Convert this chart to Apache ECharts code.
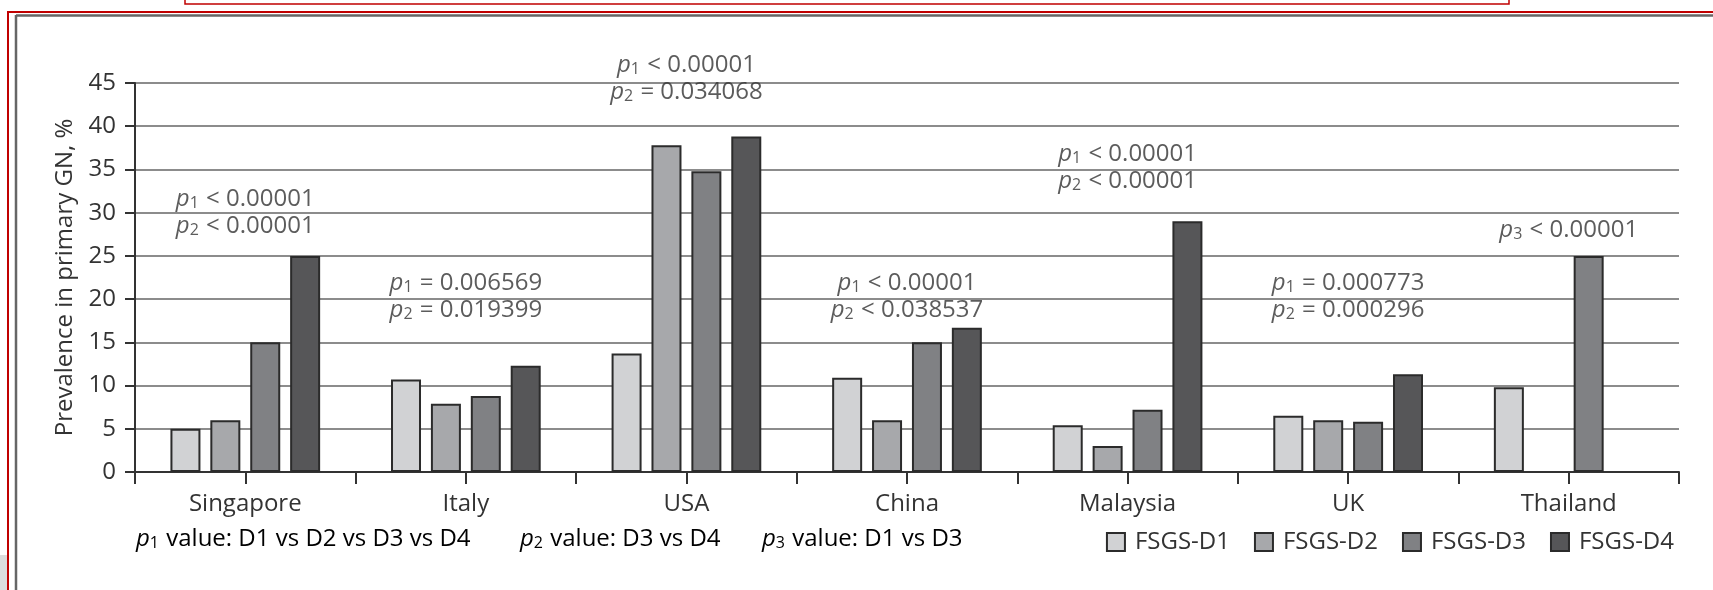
<!DOCTYPE html>
<html>
<head>
<meta charset="utf-8">
<script src="https://cdn.jsdelivr.net/npm/echarts@6/dist/echarts.min.js"></script>
<style>
  html, body { margin: 0; padding: 0; background: #fff; }
  #chart { width: 1713px; height: 590px; }
</style>
</head>
<body>
<div id="chart"></div>
<script>
// Prevalence of FSGS variants in primary GN by country (%)
const categories = ['Singapore', 'Italy', 'USA', 'China', 'Malaysia', 'UK', 'Thailand'];
const seriesNames = ['FSGS-D1', 'FSGS-D2', 'FSGS-D3', 'FSGS-D4'];
const fsgsD1 = [5.0, 10.7, 13.7, 10.9, 5.4, 6.5, 9.8];
const fsgsD2 = [6.0, 7.9, 37.8, 6.0, 3.0, 6.0, null];
const fsgsD3 = [15.0, 8.8, 34.8, 15.0, 7.2, 5.8, 25.0];
const fsgsD4 = [25.0, 12.3, 38.8, 16.7, 29.0, 11.3, null];
const yTicks = [0, 5, 10, 15, 20, 25, 30, 35, 40, 45];

// p-value notes per country: [index, relation, value]
const pNotes = [
  [[1, '<', '0.00001'], [2, '<', '0.00001']],
  [[1, '=', '0.006569'], [2, '=', '0.019399']],
  [[1, '<', '0.00001'], [2, '=', '0.034068']],
  [[1, '<', '0.00001'], [2, '<', '0.038537']],
  [[1, '<', '0.00001'], [2, '<', '0.00001']],
  [[1, '=', '0.000773'], [2, '=', '0.000296']],
  [[3, '<', '0.00001']]
];
const pKey = [
  [1, 'value: D1 vs D2 vs D3 vs D4'],
  [2, 'value: D3 vs D4'],
  [3, 'value: D1 vs D3']
];

// vertical placement of each note block (in axis units)
const noteLevel = [30.0, 20.3, 45.5, 20.3, 35.2, 20.3, 28.0];

const FONT = '"Open Sans", "Noto Sans", sans-serif';
const FS = 24;
const TXT = '#333333';
const fills = ['#d1d2d4', '#a7a8ab', '#808184', '#565658'];

const rich = {
  i: { fontFamily: FONT, fontSize: FS, fontStyle: 'italic', color: TXT, lineHeight: 27 },
  s: { fontFamily: FONT, fontSize: 16, color: TXT, lineHeight: 18, padding: [9, 1, 0, 0] },
  t: { fontFamily: FONT, fontSize: FS, color: TXT, lineHeight: 27 }
};

function noteText(lines) {
  return lines.map(l => '{i|p}{s|' + l[0] + '}{t| ' + l[1] + ' ' + l[2] + '}').join('\n');
}

const chart = echarts.init(document.getElementById('chart'), null, { renderer: 'canvas' });

const barSeries = [fsgsD1, fsgsD2, fsgsD3, fsgsD4].map((d, k) => ({
  name: seriesNames[k],
  type: 'bar',
  data: d,
  barWidth: 30,
  barGap: '33%',
  itemStyle: { color: fills[k], borderColor: '#2b2b2b', borderWidth: 2 },
  emphasis: { disabled: true },
  z: 3
}));

const keyX = [136, 520, 762];

chart.setOption({
  animation: false,
  backgroundColor: '#fff',
  textStyle: { fontFamily: FONT },
  grid: { left: 135, right: 34, top: 83, bottom: 118, containLabel: false },
  legend: {
    data: seriesNames,
    right: 34,
    top: 525,
    icon: 'rect',
    itemWidth: 18,
    itemHeight: 18,
    itemGap: 24,
    itemStyle: { borderColor: '#2b2b2b', borderWidth: 2 },
    textStyle: { fontFamily: FONT, fontSize: FS, color: TXT, padding: [0, 0, 0, 5] },
    selectedMode: false
  },
  xAxis: [
    {
      type: 'category',
      data: categories,
      position: 'bottom',
      axisLine: { show: true, lineStyle: { color: '#333', width: 2 } },
      axisTick: { show: true, alignWithLabel: false, length: 12, lineStyle: { color: '#333', width: 2 } },
      axisLabel: { fontFamily: FONT, fontSize: FS, color: TXT, margin: 20 },
      splitLine: { show: false }
    },
    {
      type: 'category',
      data: categories,
      position: 'bottom',
      axisLine: { show: false },
      axisTick: { show: true, alignWithLabel: true, length: 12, lineStyle: { color: '#333', width: 2 } },
      axisLabel: { show: false },
      splitLine: { show: false }
    }
  ],
  yAxis: {
    type: 'value',
    min: yTicks[0],
    max: yTicks[yTicks.length - 1],
    interval: yTicks[1] - yTicks[0],
    name: 'Prevalence in primary GN, %',
    nameLocation: 'middle',
    nameGap: 52,
    nameTextStyle: { fontFamily: FONT, fontSize: FS, color: TXT },
    axisLine: { show: true, lineStyle: { color: '#333', width: 2 } },
    axisTick: { show: true, length: 10, lineStyle: { color: '#333', width: 2 } },
    axisLabel: { fontFamily: FONT, fontSize: FS, color: TXT, margin: 19 },
    splitLine: { show: true, lineStyle: { color: '#8c8c8c', width: 2 } }
  },
  series: barSeries.concat([{
    type: 'scatter',
    xAxisIndex: 0,
    data: noteLevel.map((v, i) => [i, v]),
    symbolSize: 0,
    clip: false,
    silent: true,
    z: 5,
    label: {
      show: true,
      position: 'inside',
      align: 'center',
      verticalAlign: 'middle',
      formatter: p => noteText(pNotes[p.dataIndex]),
      rich: rich
    }
  }]),
  graphic: [
    // page frame
    { type: 'rect', shape: { x: 0, y: 555, width: 7, height: 35 }, style: { fill: '#dcdcdc' }, silent: true },
    { type: 'line', shape: { x1: 8, y1: 12, x2: 1713, y2: 12 }, style: { stroke: '#c00000', lineWidth: 2 }, silent: true },
    { type: 'line', shape: { x1: 8, y1: 11, x2: 8, y2: 590 }, style: { stroke: '#c00000', lineWidth: 2 }, silent: true },
    { type: 'line', shape: { x1: 16, y1: 15.5, x2: 1713, y2: 15.5 }, style: { stroke: '#666', lineWidth: 2.5 }, silent: true },
    { type: 'line', shape: { x1: 16, y1: 15, x2: 16, y2: 590 }, style: { stroke: '#666', lineWidth: 2.5 }, silent: true },
    { type: 'polyline', shape: { points: [[185, 0], [185, 4], [1509, 4], [1509, 0]] }, style: { stroke: '#c00000', lineWidth: 1.5, fill: null }, silent: true }
  ].concat(pKey.map((k, j) => ({
    type: 'text',
    x: keyX[j],
    y: 539,
    silent: true,
    style: {
      text: '{i|p}{s|' + k[0] + '}{t| ' + k[1] + '}',
      rich: rich,
      verticalAlign: 'middle',
      align: 'left'
    }
  })))
});
</script>
</body>
</html>
